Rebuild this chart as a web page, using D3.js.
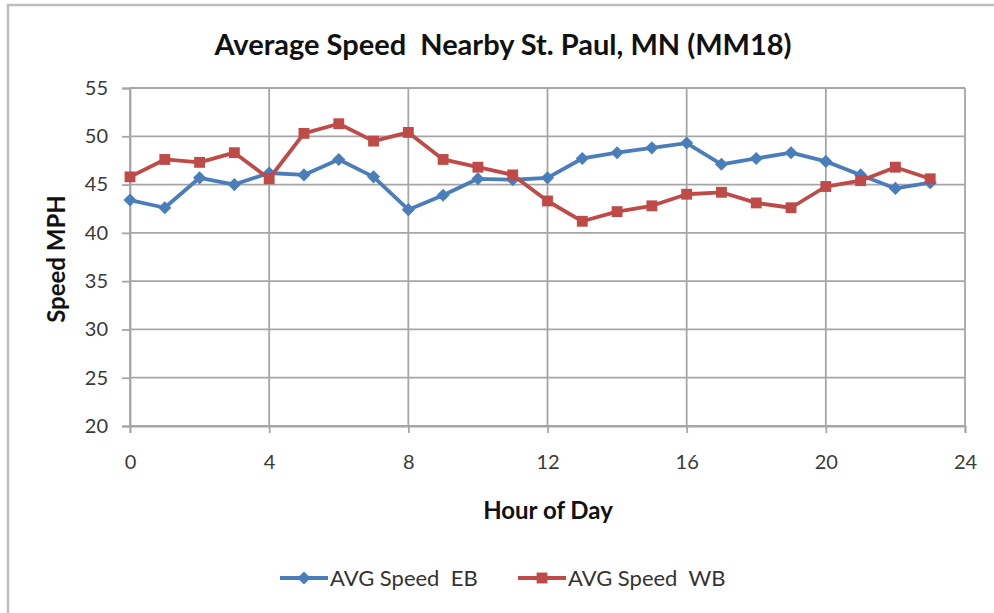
<!DOCTYPE html>
<html>
<head>
<meta charset="utf-8">
<script src="https://cdn.jsdelivr.net/npm/d3@7"></script>
<style>
  body { margin: 0; background: #fff; }
  text { font-family: "Lato", "Open Sans", sans-serif; white-space: pre; }
</style>
</head>
<body>
<div id="chart"></div>
<script>
const WIDTH = 994;
const HEIGHT = 613;

// hours 0..23
const hours = d3.range(0, 24);
const speedEB = [43.4, 42.6, 45.7, 45.0, 46.2, 46.0, 47.6, 45.8, 42.4, 43.9, 45.6, 45.5,
                 45.7, 47.7, 48.3, 48.8, 49.3, 47.1, 47.7, 48.3, 47.4, 46.0, 44.6, 45.2];
const speedWB = [45.8, 47.6, 47.3, 48.3, 45.6, 50.3, 51.3, 49.5, 50.4, 47.6, 46.8, 46.0,
                 43.3, 41.2, 42.2, 42.8, 44.0, 44.2, 43.1, 42.6, 44.8, 45.4, 46.8, 45.6];
const xTicks = [0, 4, 8, 12, 16, 20, 24];
const yTicks = [20, 25, 30, 35, 40, 45, 50, 55];
const seriesNames = ["AVG Speed  EB", "AVG Speed  WB"];

var margin = {top: 88, left: 130, right: 28, bottom: 187};
var plotW = 965 - margin.left,
    plotH = 426 - margin.top;

var svg = d3.select("#chart").append("svg")
    .attr("width", WIDTH)
    .attr("height", HEIGHT);

// outer chart frame (runs off the right/bottom edge)
svg.append("rect")
    .attr("x", 8).attr("y", 5)
    .attr("width", 1100).attr("height", 700)
    .attr("fill", "none")
    .attr("stroke", "#bdbdbd")
    .attr("stroke-width", 2.5);

var x = d3.scaleLinear().domain([0, 24]).range([0, plotW]);
var y = d3.scaleLinear().domain([20, 55]).range([plotH, 0]);

var g = svg.append("g").attr("transform", "translate(" + margin.left + "," + margin.top + ")");

// gridlines
g.selectAll(".hgrid").data(yTicks).enter().append("line")
    .attr("x1", 0).attr("x2", plotW)
    .attr("y1", d => y(d)).attr("y2", d => y(d))
    .attr("stroke", "#a6a6a6").attr("stroke-width", 1.8);
g.selectAll(".vgrid").data(xTicks).enter().append("line")
    .attr("x1", d => x(d)).attr("x2", d => x(d))
    .attr("y1", 0).attr("y2", plotH)
    .attr("stroke", "#a6a6a6").attr("stroke-width", 1.8);

// axes
var yAxis = d3.axisLeft(y).tickValues(yTicks).tickSize(8).tickPadding(14);
var xAxis = d3.axisBottom(x).tickValues(xTicks).tickSize(7).tickPadding(22);

var yg = g.append("g").call(yAxis);
var xg = g.append("g").attr("transform", "translate(0," + plotH + ")").call(xAxis);
[yg, xg].forEach(function(a) {
    a.select(".domain").attr("stroke", "#a6a6a6").attr("stroke-width", 1.8);
    a.selectAll(".tick line").attr("stroke", "#a6a6a6").attr("stroke-width", 1.8);
    a.selectAll(".tick text")
        .attr("fill", "#3a3a3a")
        .style("font-size", "20px")
        .style("font-family", "Lato, sans-serif");
});

// lines + markers
var line = d3.line()
    .x((d, i) => x(hours[i]))
    .y(d => y(d));

var colors = ["#4a7ebb", "#be4b48"];
var diamond = d3.symbol().type(d3.symbolDiamond2).size(110);
var square = d3.symbol().type(d3.symbolSquare2).size(150);

function drawSeries(data, color, symbol) {
    g.append("path")
        .datum(data)
        .attr("d", line)
        .attr("fill", "none")
        .attr("stroke", color)
        .attr("stroke-width", 3.8)
        .attr("stroke-linejoin", "round");
    g.selectAll(null).data(data).enter().append("path")
        .attr("transform", (d, i) => "translate(" + x(hours[i]) + "," + y(d) + ")")
        .attr("d", symbol)
        .attr("fill", color);
}
drawSeries(speedEB, colors[0], diamond);
drawSeries(speedWB, colors[1], square);

// title
svg.append("text")
    .attr("x", 503).attr("y", 55)
    .attr("text-anchor", "middle")
    .style("font-size", "29px")
    .style("font-weight", "bold")
    .attr("fill", "#111")
    .text("Average Speed  Nearby St. Paul, MN (MM18)");

// axis titles
svg.append("text")
    .attr("x", 548).attr("y", 519)
    .attr("text-anchor", "middle")
    .style("font-size", "24px")
    .style("font-weight", "bold")
    .attr("fill", "#111")
    .text("Hour of Day");

svg.append("text")
    .attr("transform", "translate(65,259) rotate(-90)")
    .attr("text-anchor", "middle")
    .style("font-size", "24px")
    .style("font-weight", "bold")
    .attr("fill", "#111")
    .text("Speed MPH");

// legend
var legendX = [280, 518];
var symbols = [diamond, square];
var legend = svg.selectAll(".legend").data(seriesNames).enter().append("g")
    .attr("transform", (d, i) => "translate(" + legendX[i] + ",578)");
legend.append("line")
    .attr("x1", 0).attr("x2", 48)
    .attr("stroke", (d, i) => colors[i])
    .attr("stroke-width", 3.8);
legend.append("path")
    .attr("transform", "translate(24,0)")
    .attr("d", (d, i) => symbols[i]())
    .attr("fill", (d, i) => colors[i]);
legend.append("text")
    .attr("x", 50).attr("y", 8)
    .style("font-size", "22px")
    .attr("fill", "#333")
    .text(d => d);
</script>
</body>
</html>
